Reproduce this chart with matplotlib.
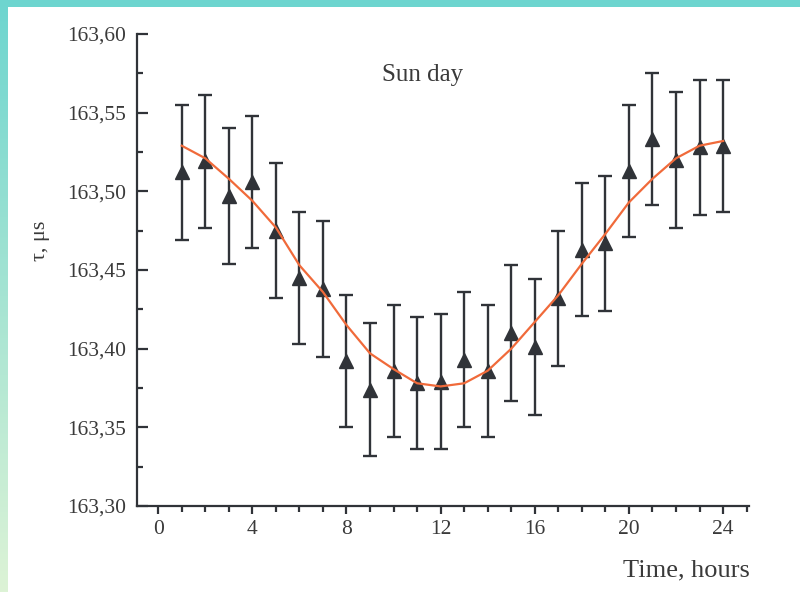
import matplotlib
matplotlib.use("Agg")
import matplotlib.pyplot as plt
import numpy as np
from matplotlib.ticker import MultipleLocator, FuncFormatter
from matplotlib.patches import Rectangle

# measured points (hour, tau in microseconds, error)
hours = [1, 2, 3, 4, 5, 6, 7, 8, 9, 10, 11, 12,
         13, 14, 15, 16, 17, 18, 19, 20, 21, 22, 23, 24]
tau = [163.512, 163.519, 163.497, 163.506, 163.475, 163.445, 163.438, 163.392,
       163.374, 163.386, 163.378, 163.379, 163.393, 163.386, 163.410, 163.401,
       163.432, 163.463, 163.467, 163.513, 163.533, 163.520, 163.528, 163.529]
err = [0.043, 0.042, 0.043, 0.042, 0.043, 0.042, 0.043, 0.042,
       0.042, 0.042, 0.042, 0.043, 0.043, 0.042, 0.043, 0.043,
       0.043, 0.042, 0.043, 0.042, 0.042, 0.043, 0.043, 0.042]

# fitted curve
fit_hours = hours
fit_tau = [163.529, 163.521, 163.508, 163.494, 163.477, 163.453, 163.436, 163.415,
           163.397, 163.387, 163.378, 163.376, 163.378, 163.386, 163.400, 163.417,
           163.434, 163.454, 163.473, 163.493, 163.508, 163.521, 163.529, 163.532]

dark = "#303338"
orange = "#f06a3a"
textc = "#3a3a3a"
serif = ["Liberation Serif", "DejaVu Serif"]

fig = plt.figure(figsize=(8, 5.92), dpi=100)
fig.patch.set_facecolor("white")

# decorative frame: teal strip on top, gradient strip on the left
edge = fig.add_axes([0, 0, 8 / 800, 1])
grad = np.linspace(0, 1, 256).reshape(-1, 1)
cmap = matplotlib.colors.LinearSegmentedColormap.from_list("g", ["#6dd5cf", "#ddf3d6"])
edge.imshow(grad, aspect="auto", cmap=cmap, extent=[0, 1, 0, 1], origin="upper")
edge.axis("off")
fig.patches.append(Rectangle((0, 1 - 7 / 592), 1, 7 / 592, transform=fig.transFigure,
                             facecolor="#6dd5cf", edgecolor="none", zorder=0))

ax = fig.add_axes([137 / 800, 86 / 592, 612 / 800, 472 / 592])

ax.errorbar(hours, tau, yerr=err, fmt="^", color=dark, ms=10.5, elinewidth=1.7,
            capsize=5, capthick=1.7, zorder=3)
ax.plot(fit_hours, fit_tau, color=orange, lw=1.6, zorder=4)

ax.set_xlim(-0.9, 25.1)
ax.set_ylim(163.30, 163.60)
ax.xaxis.set_major_locator(MultipleLocator(4))
ax.xaxis.set_minor_locator(MultipleLocator(1))
ax.yaxis.set_major_locator(MultipleLocator(0.05))
ax.yaxis.set_minor_locator(MultipleLocator(0.025))
ax.yaxis.set_major_formatter(FuncFormatter(lambda v, p: f"{v:.2f}".replace(".", ",")))

for s in ["top", "right"]:
    ax.spines[s].set_visible(False)
for s in ["left", "bottom"]:
    ax.spines[s].set_linewidth(1.6)
    ax.spines[s].set_color(dark)

ax.tick_params(axis="x", which="major", direction="out", length=6, width=1.6, color=dark, pad=4)
ax.tick_params(axis="x", which="minor", direction="out", length=4, width=1.6, color=dark)
ax.tick_params(axis="y", which="major", direction="in", length=8, width=1.6, color=dark, pad=8)
ax.tick_params(axis="y", which="minor", direction="in", length=4, width=1.6, color=dark)
for lab in ax.get_xticklabels() + ax.get_yticklabels():
    lab.set_family(serif)
    lab.set_fontsize(15.5)
    lab.set_color(textc)

ax.text(0.466, 0.913, "Sun day", transform=ax.transAxes, ha="center", va="center",
        family=serif, fontsize=18, color=textc)
fig.text(40 / 800, 1 - 241 / 592, "τ, μs", rotation=90, ha="center", va="center",
         family=serif, fontsize=16, color=textc)
fig.text(750 / 800, 1 - 570 / 592, "Time, hours", ha="right", va="center",
         family=serif, fontsize=19, color=textc)

fig.savefig("out.png", dpi=100)
